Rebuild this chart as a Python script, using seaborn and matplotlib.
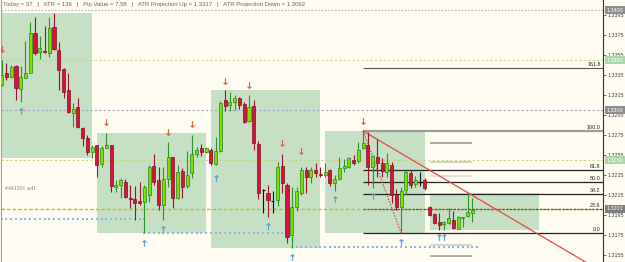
import matplotlib
matplotlib.use("Agg")
import matplotlib.pyplot as plt
import matplotlib.transforms as mtransforms
from matplotlib.patches import Rectangle
import numpy as np
import pandas as pd
import seaborn as sns

# ---------------- data ----------------
opens = [1.3325, 1.3337, 1.3333, 1.3344, 1.3321, 1.3332, 1.3337, 1.3377, 1.3358, 1.3359,
         1.3357, 1.3383, 1.3360, 1.3341, 1.3320, 1.3297, 1.3303, 1.3282, 1.3272, 1.3258,
         1.3265, 1.3246, 1.3262, 1.3265, 1.3223, 1.3225, 1.3228, 1.3212, 1.3211, 1.3209,
         1.3208, 1.3215, 1.3244, 1.3230, 1.3205, 1.3231, 1.3253, 1.3212, 1.3239, 1.3224,
         1.3237, 1.3256, 1.3262, 1.3258, 1.3260, 1.3246, 1.3259, 1.3310, 1.3305, 1.3308,
         1.3312, 1.3306, 1.3289, 1.3304, 1.3266, 1.3220, 1.3217, 1.3209, 1.3210, 1.3244,
         1.3225, 1.3175, 1.3203, 1.3217, 1.3240, 1.3233, 1.3240, 1.3236, 1.3235, 1.3240,
         1.3227, 1.3231, 1.3242, 1.3243, 1.3250, 1.3249, 1.3262, 1.3265, 1.3243, 1.3253,
         1.3247, 1.3238, 1.3245, 1.3215, 1.3203, 1.3220, 1.3237, 1.3226, 1.3228, 1.3230,
         1.3203, 1.3196, 1.3188, 1.3186, 1.3187, 1.3190, 1.3181, 1.3192, 1.3194, 1.3197]
highs = [1.3350, 1.3347, 1.3345, 1.3345, 1.3344, 1.3369, 1.3388, 1.3393, 1.3374, 1.3384,
         1.3393, 1.3397, 1.3368, 1.3342, 1.3337, 1.3307, 1.3312, 1.3283, 1.3275, 1.3265,
         1.3265, 1.3264, 1.3277, 1.3265, 1.3230, 1.3232, 1.3231, 1.3225, 1.3224, 1.3228,
         1.3225, 1.3245, 1.3256, 1.3243, 1.3243, 1.3268, 1.3253, 1.3245, 1.3242, 1.3259,
         1.3275, 1.3263, 1.3266, 1.3263, 1.3262, 1.3273, 1.3309, 1.3320, 1.3318, 1.3315,
         1.3313, 1.3308, 1.3315, 1.3310, 1.3269, 1.3221, 1.3225, 1.3219, 1.3248, 1.3256,
         1.3227, 1.3223, 1.3223, 1.3243, 1.3243, 1.3243, 1.3247, 1.3243, 1.3247, 1.3241,
         1.3235, 1.3253, 1.3251, 1.3253, 1.3255, 1.3268, 1.3279, 1.3278, 1.3255, 1.3271,
         1.3252, 1.3257, 1.3248, 1.3221, 1.3223, 1.3239, 1.3240, 1.3234, 1.3238, 1.3232,
         1.3204, 1.3197, 1.3197, 1.3189, 1.3202, 1.3199, 1.3194, 1.3193, 1.3217, 1.3212]
lows = [1.3324, 1.3330, 1.3332, 1.3310, 1.3308, 1.3332, 1.3337, 1.3355, 1.3351, 1.3357,
        1.3353, 1.3360, 1.3320, 1.3312, 1.3297, 1.3283, 1.3282, 1.3264, 1.3255, 1.3252,
        1.3233, 1.3243, 1.3262, 1.3218, 1.3218, 1.3212, 1.3212, 1.3202, 1.3190, 1.3205,
        1.3177, 1.3208, 1.3225, 1.3200, 1.3190, 1.3223, 1.3202, 1.3211, 1.3212, 1.3222,
        1.3232, 1.3253, 1.3254, 1.3257, 1.3245, 1.3245, 1.3258, 1.3299, 1.3299, 1.3300,
        1.3301, 1.3287, 1.3288, 1.3260, 1.3211, 1.3197, 1.3193, 1.3197, 1.3204, 1.3217,
        1.3167, 1.3162, 1.3199, 1.3215, 1.3217, 1.3227, 1.3233, 1.3233, 1.3233, 1.3224,
        1.3219, 1.3230, 1.3238, 1.3242, 1.3245, 1.3247, 1.3261, 1.3225, 1.3222, 1.3233,
        1.3233, 1.3233, 1.3207, 1.3200, 1.3177, 1.3215, 1.3222, 1.3223, 1.3224, 1.3220,
        1.3194, 1.3186, 1.3180, 1.3180, 1.3186, 1.3181, 1.3181, 1.3183, 1.3193, 1.3188]
closes = [1.3335, 1.3333, 1.3343, 1.3322, 1.3333, 1.3337, 1.3377, 1.3357, 1.3362, 1.3358,
          1.3382, 1.3361, 1.3340, 1.3318, 1.3298, 1.3301, 1.3283, 1.3272, 1.3258, 1.3263,
          1.3245, 1.3262, 1.3265, 1.3224, 1.3225, 1.3230, 1.3213, 1.3211, 1.3207, 1.3207,
          1.3223, 1.3243, 1.3228, 1.3205, 1.3231, 1.3253, 1.3212, 1.3238, 1.3223, 1.3235,
          1.3256, 1.3260, 1.3258, 1.3262, 1.3247, 1.3259, 1.3307, 1.3304, 1.3308, 1.3312,
          1.3305, 1.3288, 1.3303, 1.3267, 1.3217, 1.3220, 1.3210, 1.3209, 1.3243, 1.3227,
          1.3173, 1.3203, 1.3219, 1.3240, 1.3233, 1.3240, 1.3237, 1.3235, 1.3238, 1.3227,
          1.3231, 1.3242, 1.3244, 1.3252, 1.3247, 1.3260, 1.3267, 1.3243, 1.3254, 1.3247,
          1.3239, 1.3247, 1.3215, 1.3203, 1.3219, 1.3238, 1.3225, 1.3230, 1.3228, 1.3222,
          1.3195, 1.3187, 1.3185, 1.3188, 1.3192, 1.3182, 1.3193, 1.3193, 1.3198, 1.3200]

session_start = [-1, 20, 44, 68, 90]
session_end = [19, 43, 67, 89, 113]

fib_high_idx = 76
fib_low_idx = 84
fib_levels = [0.0, 23.6, 38.2, 50.0, 61.8, 100.0, 161.8]
fib_labels = ["0.0", "23.6", "38.2", "50.0", "61.8", "100.0", "161.8"]

trend_x = [76, 117.4]
trend_y = [1.3279, 1.3163]

level_prices = [1.3400, 1.3350, 1.3300, 1.3250, 1.3201]
level_labels = ["1.3400", "1.3350", "1.3300", "1.3250", "1.3201"]

support_start = [-1, 30, 61]
support_end = [30, 61, 100]
support_price = [1.3191, 1.3177, 1.3163]

proj_prices = [1.3267, 1.3248, 1.3234, 1.3165, 1.3154]
proj_start = 90
proj_end = 99

down_x = [0, 22, 35, 40, 47, 52, 59, 63, 76]
down_y = [1.3361, 1.3288, 1.3278, 1.3286, 1.3329, 1.3325, 1.3267, 1.3259, 1.3289]
up_x = [4, 30, 34, 45, 56, 61, 70, 78, 84, 92, 93]
up_y = [1.3299, 1.3167, 1.3181, 1.3232, 1.3184, 1.3153, 1.3211, 1.3214, 1.3168, 1.3173, 1.3173]

tick_values = [1.3155, 1.3175, 1.3195, 1.3215, 1.3235, 1.3255, 1.3275,
               1.3295, 1.3315, 1.3335, 1.3355, 1.3375, 1.3395]

status_text = ("Today = 37   |   ATR = 136   |   Pip Value = 7.58   |   "
               "ATR Projection Up = 1.3317   |   ATR Projection Down = 1.3062")
order_text = "#441201 sell"

# ---------------- style ----------------
sns.set_style("white")
plt.rcParams["font.family"] = ["Liberation Sans", "DejaVu Sans"]
BG = "#fffdf1"
BOX = "#c5e0c2"

fig = plt.figure(figsize=(6.25, 2.62), dpi=100, facecolor=BG)
ax = fig.add_axes([1 / 625, 0, 602 / 625, 1])
ax.set_facecolor(BG)

YMAX = 1.3410
YMIN = 1.3410 - 262 * 0.0001
ax.set_ylim(YMIN, YMAX)
ax.set_xlim(-0.15, 126.45)

df = pd.DataFrame({"idx": np.arange(len(opens)), "open": opens, "high": highs,
                   "low": lows, "close": closes})

# session boxes
for s, e in zip(session_start, session_end):
    lo = max(s, 0)
    hi = min(e, len(df) - 1)
    seg = df[(df.idx >= lo) & (df.idx <= hi)]
    top, bot = seg.high.max(), seg.low.min()
    ax.add_patch(Rectangle((s, bot), e - s, top - bot, facecolor=BOX,
                           edgecolor="none", zorder=0.5))

# horizontal level lines
level_styles = [("#b4b4b4", (0, (1.5, 1.5)), 0.8),
                ("#bcd694", (0, (2, 2)), 0.8),
                ("#aaa4c0", (0, (2, 2)), 0.8),
                ("#c2d684", (0, (2, 2)), 0.8),
                ("#c9b532", (0, (2.5, 1.5)), 1.0)]
for p, (c, ls, lw) in zip(level_prices, level_styles):
    ax.axhline(p, color=c, linestyle=ls, linewidth=lw, zorder=1)

# projection short lines
proj_colors = ["#9a9a9a", "#c8c8c8", "#dcdcdc", "#d0d0d0", "#a0a0a0"]
for p, c in zip(proj_prices, proj_colors):
    ax.hlines(p, proj_start, proj_end, color=c, linewidth=1.2, zorder=1.2)

# fibonacci
f_hi = df.high[fib_high_idx]
f_lo = df.low[fib_low_idx]
xr = ax.get_xlim()[1]
for lvl, lab in zip(fib_levels, fib_labels):
    p = f_lo + (f_hi - f_lo) * lvl / 100.0
    if lvl == 100.0:
        c, lw, ls = "#9a9a9a", 1.6, "-"
    elif lvl == 161.8:
        c, lw, ls = "#555555", 0.8, "-"
    elif lvl == 23.6:
        c, lw, ls = "#55557a", 0.9, (0, (2, 1))
    else:
        c, lw, ls = "#222222", 0.9, "-"
    ax.hlines(p, fib_high_idx, xr, color=c, linewidth=lw, linestyle=ls, zorder=1.5)
    ax.text(xr - 0.5, p + 0.00012, lab, ha="right", va="bottom", fontsize=3.9,
            color="#222222", zorder=5)

# trend line (extended) and dotted fib connector
slope = (trend_y[1] - trend_y[0]) / (trend_x[1] - trend_x[0])
tx = np.array([trend_x[0], xr])
ty = trend_y[0] + slope * (tx - trend_x[0])
sns.lineplot(x=tx, y=ty, color="#ee4444", linewidth=0.9, ax=ax, zorder=2)
ax.plot([fib_high_idx, fib_low_idx], [f_hi, f_lo], color="#ee4444",
        linestyle=(0, (1.2, 1.2)), linewidth=0.9, zorder=2)

# support blue dotted segments
for s, e, p in zip(support_start, support_end, support_price):
    xs = np.arange(s, e + 1)
    sns.scatterplot(x=xs, y=np.full(len(xs), p), marker="s", s=3.2,
                    color="#8cb6e6", linewidth=0, ax=ax, zorder=2.5)

# candles
bull = df[df.close > df.open]
bear = df[df.close < df.open]
flat = df[df.close == df.open]
W = 0.64
ax.vlines(bull.idx, bull.low, bull.high, color="#2a962a", linewidth=0.8, zorder=3)
ax.bar(bull.idx, bull.close - bull.open, bottom=bull.open, width=W,
       color="#7ee000", edgecolor="#1f861f", linewidth=0.5, zorder=3.2)
ax.vlines(bear.idx, bear.low, bear.high, color="#9c1030", linewidth=0.8, zorder=3)
ax.bar(bear.idx, bear.close - bear.open, bottom=bear.open, width=W,
       color="#d41538", edgecolor="#880a22", linewidth=0.5, zorder=3.2)
ax.vlines(flat.idx, flat.low, flat.high, color="#111111", linewidth=0.8, zorder=3)
ax.hlines(flat.close, flat.idx - 0.35, flat.idx + 0.35, color="#111111",
          linewidth=0.9, zorder=3.2)

# arrows (as markers)
sns.scatterplot(x=down_x, y=down_y, marker=r"$\downarrow$", s=22,
                color="#e8583a", linewidth=0.3, edgecolor="#e8583a", ax=ax, zorder=4)
sns.scatterplot(x=up_x, y=up_y, marker=r"$\uparrow$", s=22,
                color="#5b9bd8", linewidth=0.3, edgecolor="#5b9bd8", ax=ax, zorder=4)

# order label
ax.text(0.7, 1.3221, order_text, ha="left", va="center", fontsize=4.2,
        color="#7a7a7a", family=["Liberation Serif", "DejaVu Serif"], zorder=4)

# axes styling
ax.set_xticks([])
ax.set_xlabel("")
ax.set_ylabel("")
ax.yaxis.tick_right()
ax.set_yticks(tick_values)
ax.set_yticklabels([f"{v:.4f}" for v in tick_values])
ax.tick_params(axis="y", labelsize=3.9, length=2, width=0.5, pad=1.5,
               colors="#333333", labelcolor="#444444")
for side in ["top", "bottom"]:
    ax.spines[side].set_visible(False)
ax.spines["right"].set_color("#333333")
ax.spines["right"].set_linewidth(0.8)
ax.spines["left"].set_color("#a0a0a0")
ax.spines["left"].set_linewidth(0.8)

# highlighted price labels
trans = mtransforms.blended_transform_factory(ax.transAxes, ax.transData)
label_bg = ["#8c8c8c", "#a8d8a8", "#8c8c8c", "#a8d8a8", "#7e7e7e"]
for p, lab, bg in zip(level_prices, level_labels, label_bg):
    ax.text(1.006, p, lab, transform=trans, ha="left", va="center", fontsize=3.9,
            color="white", zorder=6, clip_on=False,
            bbox=dict(boxstyle="square,pad=0.25", fc=bg, ec="none"))

fig.text(3 / 625, 1 - 4.5 / 262, status_text, ha="left", va="center",
         fontsize=4.3, color="#666666")

fig.savefig("out.png", dpi=100, facecolor=BG)
